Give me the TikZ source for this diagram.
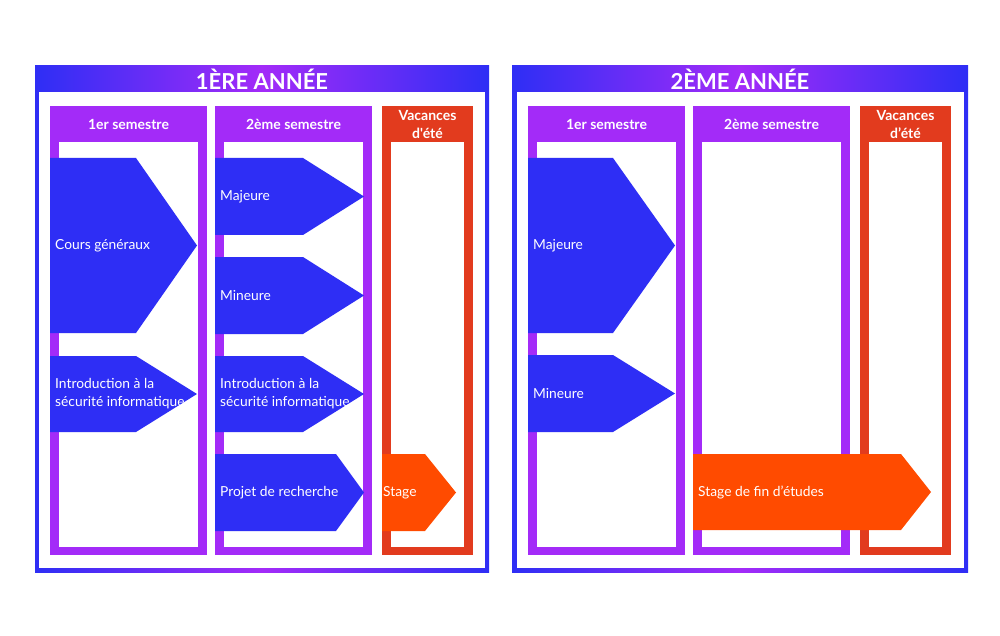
\documentclass[tikz,border=0pt]{standalone}
\usepackage{fontspec}
\setmainfont{Lato}[Ligatures=TeXOff]

\definecolor{anneeblue}{HTML}{2E2EF5}
\definecolor{semviolet}{HTML}{A32BF8}
\definecolor{vacred}{HTML}{E23B1E}
\definecolor{stageorange}{HTML}{FF4B00}

\tikzset{
  titre/.style={text=white, font=\bfseries\fontsize{22}{24}\selectfont},
  entete/.style={text=white, font=\bfseries\fontsize{14}{18}\selectfont, align=center},
  cours/.style={text=white, font=\fontsize{13.8}{18}\selectfont, align=left, anchor=west, inner sep=0pt},
}

% column: x left, x right, colour, name, header
\newcommand{\colonne}[5]{%
  \fill[#3] (#1,106) rectangle (#2,555);
  \fill[white] ({#1+9},142) rectangle ({#2-9},547);
  \node[entete] (#4) at ({(#1+#2)/2},124) {#5};
}

% block: left, top, bottom, shoulder, tip, colour, name, text, text inset
\newcommand{\bloc}[9]{%
  \fill[#6] (#1,#2) -- (#4,#2) -- (#5,{(#2+#3)/2}) -- (#4,#3) -- (#1,#3) -- cycle;
  \node[cours] (#7) at ({#1+#9},{(#2+#3)/2}) {#8};
}

\begin{document}
\begin{tikzpicture}[x=1pt,y=-1pt]
    \useasboundingbox (0,0) rectangle (1000,636);

    % 1ere annee
    \shade[left color=anneeblue, right color=anneeblue, middle color=semviolet] (35,66) rectangle (489,572);
    \fill[white] (39,92) rectangle (485,568);
    \node[titre] (an1) at (262,79) {1ÈRE ANNÉE};

    \colonne{50}{207}{semviolet}{s1a}{1er semestre}
    \colonne{215}{372}{semviolet}{s2a}{2ème semestre}
    \colonne{382}{473}{vacred}{vaca}{Vacances\\d'été}

    \bloc{50}{158}{333}{136}{197}{anneeblue}{cg}{Cours généraux}{5}
    \bloc{50}{356}{432}{136}{197}{anneeblue}{introa}{Introduction à la\\sécurité informatique}{5}
    \bloc{215}{158}{235}{303}{364}{anneeblue}{maja}{Majeure}{5}
    \bloc{215}{257}{334}{303}{364}{anneeblue}{mina}{Mineure}{5}
    \bloc{215}{356}{432}{303}{364}{anneeblue}{introb}{Introduction à la\\sécurité informatique}{5}
    \bloc{215}{454}{531}{336}{364}{anneeblue}{projet}{Projet de recherche}{5}
    \bloc{382}{454}{531}{425}{456}{stageorange}{stagea}{Stage}{1}

    % 2eme annee
    \shade[left color=anneeblue, right color=anneeblue, middle color=semviolet] (512,66) rectangle (968,572);
    \fill[white] (517,92) rectangle (964,568);
    \node[titre] (an2) at (740,79) {2ÈME ANNÉE};

    \colonne{528}{685}{semviolet}{s1b}{1er semestre}
    \colonne{693}{850}{semviolet}{s2b}{2ème semestre}
    \colonne{860}{951}{vacred}{vacb}{Vacances\\d’été}

    \bloc{528}{158}{333}{613}{675}{anneeblue}{majb}{Majeure}{5}
    \bloc{528}{355}{432}{613}{675}{anneeblue}{minb}{Mineure}{5}
    \bloc{693}{454}{530}{901}{931}{stageorange}{stageb}{Stage de fin d’études}{5}
\end{tikzpicture}
\end{document}
